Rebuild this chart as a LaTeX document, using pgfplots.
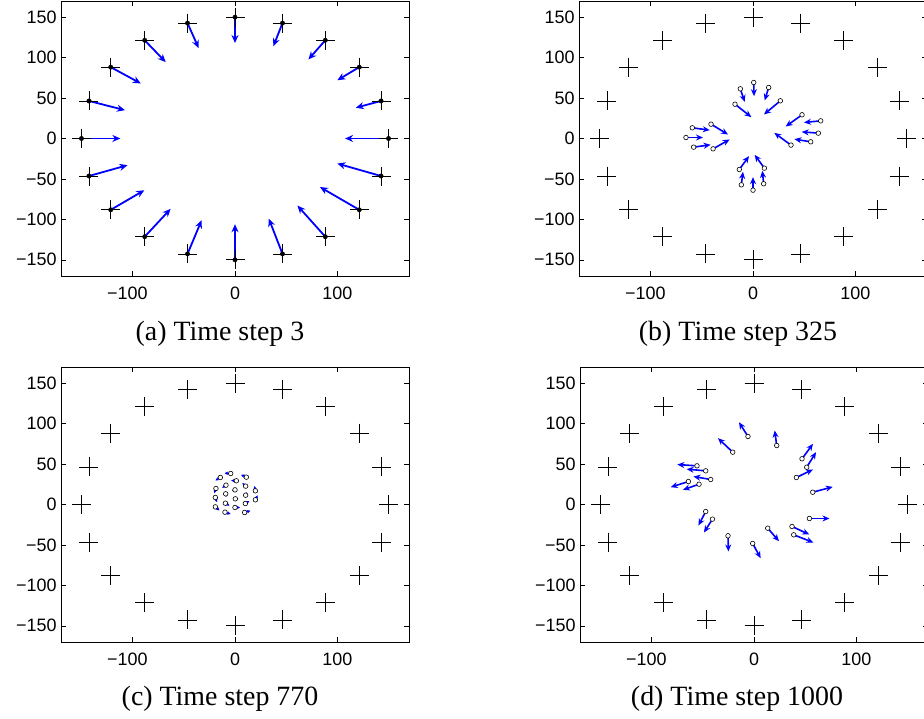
\documentclass[border=0pt]{standalone}
\usepackage{pgfplots}
\pgfplotsset{compat=1.18}
\usepackage{pgfplotstable}
\usetikzlibrary{arrows.meta}
\usepackage{fontspec}
\setmainfont{Liberation Serif}
\newfontfamily\arialfont{Liberation Sans}

% landmark positions (+)
\pgfplotstableread{
x y
150 0
142.7 46.4
121.4 88.2
88.2 121.4
46.4 142.7
0 150
-46.4 142.7
-88.2 121.4
-121.4 88.2
-142.7 46.4
-150 0
-142.7 -46.4
-121.4 -88.2
-88.2 -121.4
-46.4 -142.7
0 -150
46.4 -142.7
88.2 -121.4
121.4 -88.2
142.7 -46.4
}\landmarks

% (a) time step 3: agent position and arrow tip
\pgfplotstableread{
x y tx ty
150 0 107.5 0
142.7 46.4 118 38
121.4 88.2 100 72
88.2 121.4 71.7 97.7
46.4 142.7 37.5 114
0 150 0 118
-46.4 142.7 -35.5 111.7
-88.2 121.4 -67.7 94.4
-121.4 88.2 -92 68
-142.7 46.4 -107.5 35
-150 0 -112 0
-142.7 -46.4 -105 -33
-121.4 -88.2 -88.6 -64
-88.2 -121.4 -62.9 -87
-46.4 -142.7 -32.6 -101
0 -150 0 -106
46.4 -142.7 33 -99
88.2 -121.4 61 -83
121.4 -88.2 83 -60
142.7 -46.4 100 -31
}\stepA

% (b) time step 325
\pgfplotstableread{
x y tx ty
0.7 69.2 1 52.3
-12.4 61.4 -8.1 45.3
15.3 63 11.4 47
26.7 46.6 10.7 29.7
-17.6 42.4 -1.6 26.4
-59.3 13.2 -42.3 10.3
-41 17.7 -24.4 4.9
-65.5 1.2 -48.9 1.2
-58 -10.7 -41.4 -7.8
-39 -12.8 -22.8 -1.2
47.9 29.3 31.9 14.8
66.1 21.8 49.8 19.8
63.8 6.6 47.6 8.2
56.4 -4.1 40.4 -0.8
37.1 -8.2 20.8 7
-13.4 -38.3 -3.9 -21.8
11.1 -36.7 1.6 -20.2
-11.4 -57.3 -9.8 -41.2
0 -63.9 0 -47.8
10.4 -56 9.1 -40
}\stepB

% (c) time step 770
\pgfplotstableread{
x y tx ty
-4.2 38.3 -10.2 38.8
-14.3 33.4 -19.1 29.8
11.1 33.8 5.9 36.7
1.3 29.3 -3.7 29.7
-8.8 23.9 -12.5 20.6
10.4 22.7 7.2 26.5
-18.6 19.8 -20.4 14.1
0 18.1 -3 17.1
19.9 16.9 19 22.8
-9.1 13.2 -8.7 9.2
10.4 11.5 11.3 15.4
-19.2 8.7 -17.6 2.9
0.3 7 3.3 7.1
19.9 5.8 22.2 11.4
-9.4 1.6 -5.4 -1.4
10.1 1.2 14 4.3
-19.2 -2.9 -15.2 -7.4
0 -3.7 5 -3.7
-9.8 -9.5 -4.3 -11.8
9.4 -9.9 15 -7.7
}\stepC

% (d) time step 1000
\pgfplotstableread{
x y tx ty
-5.9 84.1 -14.7 101.7
22.2 72.9 20.2 91.5
-20.8 64.7 -35.2 82
46.9 56.5 57.6 75
51.5 46.1 60.6 64.7
41.4 33.4 57.6 43.3
-55.7 47.8 -74.9 49.4
-47.2 41.6 -65.8 43.7
-42.3 30.9 -59.2 34.6
-64.1 28.4 -81.4 21.4
-53.7 25.1 -69.4 18.1
57.4 15.2 76.9 21.8
54.1 -17.3 73.7 -17.3
-47.2 -8.7 -54.3 -26
-40.6 -18.1 -48.9 -34.6
13.4 -29.3 24.4 -45.4
37.1 -27.2 54.1 -37.1
38.8 -37.5 58 -47
-25.4 -38.7 -25 -58.1
-1.3 -48.2 6.5 -66.4
}\stepD

\pgfplotsset{
  panel/.style={
    scale only axis, width=348bp, height=275bp,
    xmin=-170, xmax=170, ymin=-170, ymax=170,
    xtick={-100,0,100}, xticklabels={\llap{−}100,0,100},
    ytick={-150,-100,-50,0,50,100,150},
    yticklabels={−150,−100,−50,0,50,100,150},
    tick align=inside, major tick length=5bp,
    tick style={black, line width=0.6bp},
    axis line style={line width=0.9bp},
    ticklabel style={font=\arialfont\fontsize{18}{20}\selectfont},
    xticklabel style={yshift=-7bp},
    yticklabel style={xshift=-1bp},
  },
  lmk/.style={only marks, mark=+, mark size=9.5bp, black, mark options={line width=0.8bp}},
  arr/.style={blue, line width=1.6bp,
    quiver={u={\thisrow{tx}-\thisrow{x}}, v={\thisrow{ty}-\thisrow{y}}},
    -{Stealth[length=7bp,width=6bp]}},
  agent/.style={only marks, mark=*, mark size=2.3bp,
    mark options={fill=white, draw=black, line width=0.6bp}},
}

\begin{document}
\begin{tikzpicture}[x=1bp,y=1bp]
\useasboundingbox (0,0) rectangle (924,719);

% (a)
\begin{axis}[panel, at={(61bp,443bp)}, anchor=south west]
\addplot[lmk] table[x=x,y=y] {\landmarks};
\addplot[arr, line width=1.8bp, -{Stealth[length=8bp,width=7bp]}] table {\stepA};
\addplot[only marks, mark=*, mark size=2.2bp, black] table[x=x,y=y] {\stepA};
\end{axis}

% (b)
\begin{axis}[panel, at={(579bp,443bp)}, anchor=south west]
\addplot[lmk] table[x=x,y=y] {\landmarks};
\addplot[arr] table {\stepB};
\addplot[agent] table[x=x,y=y] {\stepB};
\end{axis}

% (c)
\begin{axis}[panel, at={(61bp,77bp)}, anchor=south west]
\addplot[lmk] table[x=x,y=y] {\landmarks};
\addplot[arr, line width=1.4bp, -{Stealth[length=3.5bp,width=3.5bp]}] table {\stepC};
\addplot[agent] table[x=x,y=y] {\stepC};
\end{axis}

% (d)
\begin{axis}[panel, at={(580bp,77bp)}, anchor=south west]
\addplot[lmk] table[x=x,y=y] {\landmarks};
\addplot[arr] table {\stepD};
\addplot[agent] table[x=x,y=y] {\stepD};
\end{axis}

\node[font=\fontsize{28}{30}\selectfont] at (220,385) {(a) Time step 3};
\node[font=\fontsize{28}{30}\selectfont] at (738,385) {(b) Time step 325};
\node[font=\fontsize{28}{30}\selectfont] at (220,20) {(c) Time step 770};
\node[font=\fontsize{28}{30}\selectfont] at (737,20) {(d) Time step 1000};
\end{tikzpicture}
\end{document}
